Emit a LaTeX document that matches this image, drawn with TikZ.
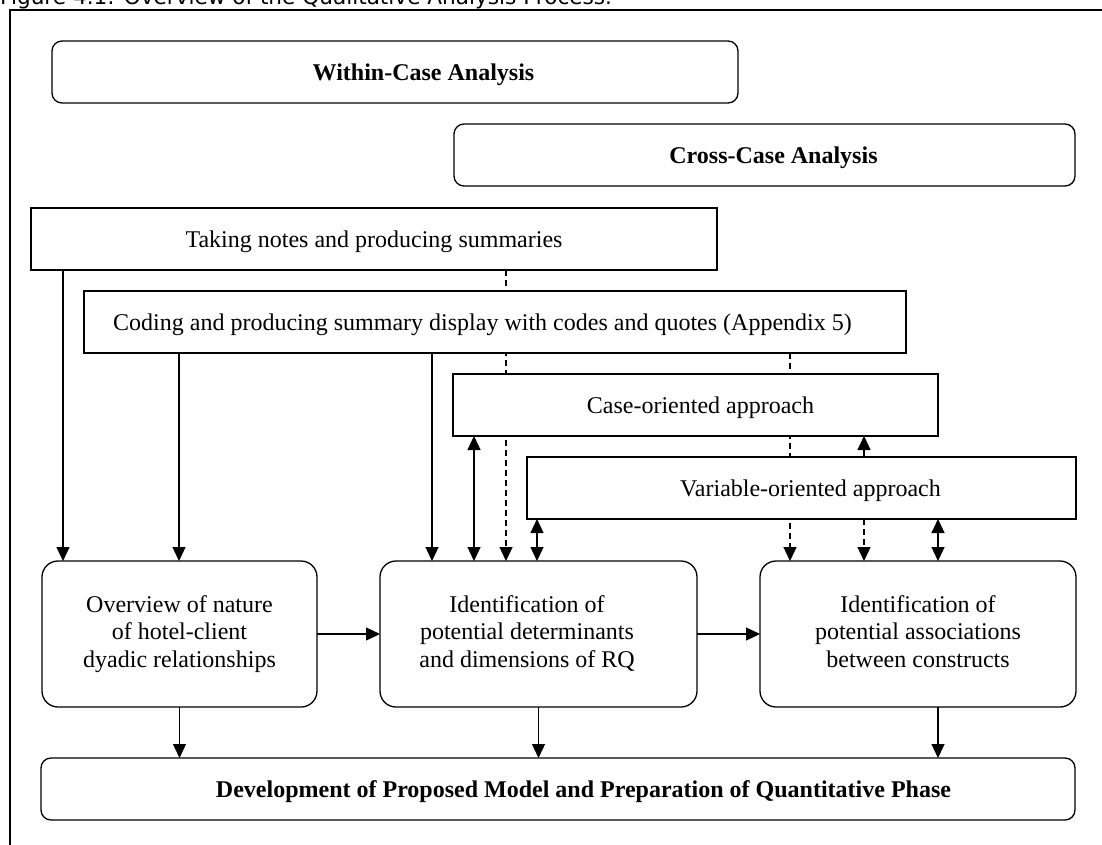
\documentclass[tikz,border=0pt]{standalone}
\usepackage{fontspec}
\setmainfont{Liberation Serif}
\newfontfamily\capfont{DejaVu Sans}
\usetikzlibrary{arrows.meta,backgrounds}

% centred multi-line cell text
\newcommand{\boxlines}[1]{\begin{tabular}{@{}c@{}}#1\end{tabular}}

\begin{document}
\begin{tikzpicture}[x=1pt,y=-1pt,
  txt/.style={font=\fontsize{24}{27.5}\selectfont},
  bold/.style={font=\fontsize{24}{27.5}\selectfont\bfseries},
  box/.style={draw, line width=1.3pt, fill=white, inner sep=0pt, outer sep=0pt,
              anchor=north west, txt},
  one/.style={text height=16pt, text depth=0pt},
  rbox/.style={box, rounded corners=10pt},
  stage/.style={box, rounded corners=16pt, minimum width=#1, minimum height=146pt},
  arr/.style={line width=1.3pt, -{Triangle[length=14pt,width=13pt]}},
  darr/.style={line width=1.3pt, {Triangle[length=14pt,width=13pt]}-{Triangle[length=14pt,width=13pt]}},
  dsh/.style={dash pattern=on 6pt off 4pt}]

\useasboundingbox (0,0) rectangle (1102,844);

% caption above the frame
\node[anchor=base west, inner sep=0pt, font=\capfont\fontsize{21.6}{26}\selectfont]
  (title) at (0,4.5) {Figure 4.1: Overview of the Qualitative Analysis Process.};

% outer frame
\draw[line width=1.3pt] (10,10) rectangle (1300,1000);

% phase headers
\node[rbox, bold, one, minimum width=686pt, minimum height=62pt] (within) at (52,41)
  {\hspace*{57pt}Within-Case Analysis};
\node[rbox, bold, one, minimum width=621pt, minimum height=62pt] (cross) at (454,124)
  {\hspace*{18pt}Cross-Case Analysis};

% analysis activities
\node[box, one, minimum width=686pt, minimum height=62pt] (taking) at (31,208)
  {Taking notes and producing summaries};
\node[box, one, minimum width=822pt, minimum height=62pt] (coding) at (84,291)
  {Coding and producing summary display with codes and quotes (Appendix 5)\hspace*{25pt}};
\node[box, one, minimum width=485pt, minimum height=62pt] (case) at (453,374)
  {\hspace*{10pt}Case-oriented approach};
\node[box, one, minimum width=549pt, minimum height=62pt] (var) at (527,457)
  {\hspace*{18pt}Variable-oriented approach};

% outcomes
\node[stage=275pt] (b1) at (42,561)
  {\boxlines{Overview of nature\\of hotel-client\\dyadic relationships}};
\node[stage=317pt] (b2) at (380,561)
  {\boxlines{Identification of\\potential determinants\\and dimensions of RQ}\hspace*{23pt}};
\node[stage=316pt] (b3) at (760,561)
  {\boxlines{Identification of\\potential associations\\between constructs}};

\node[rbox, bold, one, minimum width=1034pt, minimum height=62pt] (dev) at (41,758)
  {\hspace*{51pt}Development of Proposed Model and Preparation of Quantitative Phase};

% connector columns
\coordinate (c1) at (63,0);
\coordinate (c2) at (179,0);
\coordinate (c3) at (432,0);
\coordinate (c4) at (474,0);
\coordinate (c5) at (506,0);
\coordinate (c6) at (537,0);
\coordinate (c7) at (790,0);
\coordinate (c8) at (864,0);
\coordinate (c9) at (938,0);

\begin{scope}[on background layer]
  \fill[white] (0,0) rectangle (1102,844);
  \draw[arr] (taking.south -| c1) -- (b1.north -| c1);
  \draw[arr] (coding.south -| c2) -- (b1.north -| c2);
  \draw[arr] (coding.south -| c3) -- (b2.north -| c3);
  \draw[darr] (case.south -| c4) -- (b2.north -| c4);
  \draw[arr, dsh] (taking.south -| c5) -- (b2.north -| c5);
  \draw[darr] (var.south -| c6) -- (b2.north -| c6);
  \draw[arr, dsh] (coding.south -| c7) -- (b3.north -| c7);
  \draw[arr] (var.north -| c8) -- (case.south -| c8);
  \draw[arr, dsh] (var.south -| c8) -- (b3.north -| c8);
  \draw[darr] (var.south -| c9) -- (b3.north -| c9);
  \draw[arr] (b1.east) -- (b2.west);
  \draw[arr] (b2.east) -- (b3.west);
  \draw[arr] (b1.south) -- (dev.north -| b1.south);
  \draw[arr] (b2.south) -- (dev.north -| b2.south);
  \draw[arr] (b3.south -| c9) -- (dev.north -| c9);
\end{scope}
\end{tikzpicture}
\end{document}
